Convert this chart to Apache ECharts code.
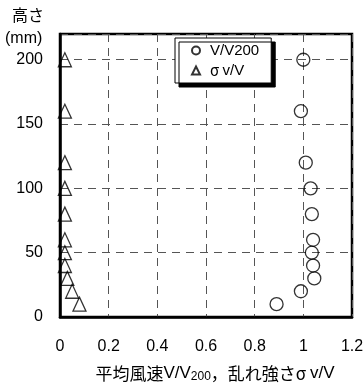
<!DOCTYPE html>
<html><head><meta charset="utf-8">
<script src="https://cdn.jsdelivr.net/npm/echarts@6/dist/echarts.min.js"></script>
<style>html,body{margin:0;padding:0;background:#fff}#c{width:364px;height:387px}</style>
</head><body><div id="c"></div>
<script>
// Heights (mm)
const heights = [200, 160, 120, 100, 80, 60, 50, 40, 30, 20, 10];
// Mean wind speed ratio V/V200
const meanSpeed = [1.0, 0.99, 1.01, 1.03, 1.035, 1.04, 1.035, 1.04, 1.045, 0.99, 0.89];
// Turbulence intensity σv/V
const turbulence = [0.02, 0.02, 0.02, 0.02, 0.02, 0.02, 0.02, 0.02, 0.03, 0.05, 0.08];
const seriesNames = ['V/V200', 'σv/V'];
const xTicks = [0, 0.2, 0.4, 0.6, 0.8, 1, 1.2];
const yTicks = [0, 50, 100, 150, 200];

const FONT = "'Liberation Sans','Noto Sans CJK JP',sans-serif";
const CJK = "'Noto Sans CJK JP',sans-serif";
const chart = echarts.init(document.getElementById('c'));
chart.setOption({
  animation: false,
  backgroundColor: '#fff',
  textStyle: { fontFamily: FONT, color: '#000' },
  grid: { left: 60, right: 12, top: 34, bottom: 70, outerBoundsMode: 'none', containLabel: false,
    show: true, borderColor: '#000', borderWidth: 2.5, backgroundColor: 'transparent' },
  graphic: [
    { type: 'text', left: 12, top: 7, style: { text: '高さ', fontSize: 16, fontFamily: CJK, fill: '#000' } },
    { type: 'text', left: 5, top: 31, style: { text: '(mm)', fontSize: 16, fontFamily: FONT, fill: '#000' } }
  ],
  legend: {
    orient: 'vertical', left: 175, top: 38,
    data: seriesNames,
    formatter: n => n === 'σv/V' ? '{g|σ }{t|v/V}' : '{t|' + n + '}',
    backgroundColor: '#fff', borderColor: '#000', borderWidth: 1,
    shadowColor: '#000', shadowBlur: 0, shadowOffsetX: 4, shadowOffsetY: 4,
    padding: [5, 12, 5, 16], itemGap: 5, itemWidth: 8, itemHeight: 8,
    textStyle: { fontSize: 15, fontFamily: FONT, color: '#000', padding: [0, 0, 0, 5],
      rich: { t: { fontSize: 15, fontFamily: FONT, color: '#000' }, g: { fontSize: 15, fontFamily: CJK, color: '#000' } } }
  },
  xAxis: {
    type: 'value', min: 0, max: 1.2, interval: 0.2,
    axisLine: { show: true, lineStyle: { color: '#000', width: 2.5 } },
    axisTick: { show: false },
    axisLabel: { fontSize: 16, color: '#000', margin: 22, fontFamily: FONT },
    splitLine: { show: true, lineStyle: { color: '#555', width: 1, type: [8, 6] } },
    name: '{a|平均風速}{b|V/V}{s|200}{a|，乱れ強さσ }{b|v/V}',
    nameLocation: 'middle', nameGap: 47,
    nameTextStyle: { padding: [0, 0, 0, 18], rich: {
      a: { fontSize: 17, fontFamily: CJK, color: '#000' },
      b: { fontSize: 17, fontFamily: FONT, color: '#000' },
      s: { fontSize: 12, fontFamily: FONT, color: '#000', verticalAlign: 'bottom', padding: [7, 0, 0, 0] } } }
  },
  yAxis: {
    type: 'value', min: 0, max: 220, interval: 50,
    axisLine: { show: true, lineStyle: { color: '#000', width: 2.5 } },
    axisTick: { show: false },
    axisLabel: { fontSize: 16, color: '#000', margin: 17, fontFamily: FONT, showMaxLabel: false,
      formatter: v => (yTicks.indexOf(v) >= 0 ? String(v) : '') },
    splitLine: { show: true, lineStyle: { color: '#555', width: 1, type: [8, 6] } }
  },
  series: [
    { name: seriesNames[0], type: 'scatter', symbol: 'circle', symbolSize: 13,
      itemStyle: { color: 'rgba(255,255,255,0)', borderColor: '#000', borderWidth: 1.3 },
      data: heights.map((h, i) => [meanSpeed[i], h]) },
    { name: seriesNames[1], type: 'scatter', symbol: 'triangle', symbolSize: [13, 14],
      itemStyle: { color: 'rgba(255,255,255,0)', borderColor: '#000', borderWidth: 1.3 },
      data: heights.map((h, i) => [turbulence[i], h]) }
  ]
});
</script></body></html>
